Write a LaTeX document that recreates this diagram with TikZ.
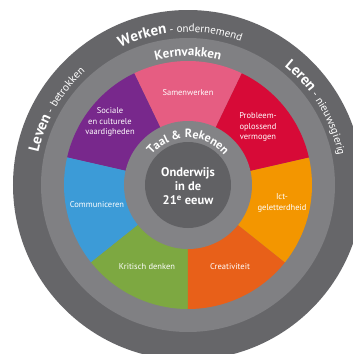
\documentclass[tikz,border=0pt]{standalone}
\usepackage{fontspec}
\setmainfont{PT Sans}
\usetikzlibrary{decorations.text}

\definecolor{ringouter}{RGB}{102,102,105}
\definecolor{ringmid}{RGB}{128,128,131}
\definecolor{ringinner}{RGB}{131,131,134}
\definecolor{coredark}{RGB}{97,97,100}
\definecolor{segpink}{RGB}{230,93,130}
\definecolor{segpurple}{RGB}{120,40,140}
\definecolor{segblue}{RGB}{60,155,215}
\definecolor{seggreen}{RGB}{125,168,65}
\definecolor{segorangered}{RGB}{232,96,25}
\definecolor{segorange}{RGB}{243,150,0}
\definecolor{segred}{RGB}{215,10,55}

\newcommand{\bigbold}{\bfseries\fontsize{15}{15}\selectfont}
\newcommand{\smallreg}{\mdseries\fontsize{11}{11}\selectfont}

\begin{document}
\begin{tikzpicture}[x=1pt,y=1pt,
  seglabel/.style={text=white, align=center, font=\fontsize{8.5}{10.5}\selectfont},
  arctext/.style={decorate, decoration={text along path, text align=center,
    text color=white, text={#1}}}]

\fill[white] (-188,-169) rectangle (165,185);
\useasboundingbox (-188,-169) rectangle (165,185);

\fill[ringouter] (0,0) circle (175);
\fill[ringmid] (0,0) circle (147);

\foreach \col/\a in {segpink/90, segpurple/141.43, segblue/192.86, seggreen/244.29,
                     segorangered/295.71, segorange/347.14, segred/38.57}
  \fill[\col] (0,0) -- ({\a-25.714}:124) arc[start angle=\a-25.714, end angle=\a+25.714, radius=124] -- cycle;

\fill[ringinner] (0,0) circle (64);
\fill[coredark] (0,0) circle (43);

\node[seglabel] (samen) at (0,92) {Samenwerken};
\node[seglabel] (sociaal) at (-78,63) {Sociale\\en culturele\\vaardigheden};
\node[seglabel] (probleem) at (70,58) {Probleem-\\oplossend\\vermogen};
\node[seglabel] (commu) at (-91,-20) {Communiceren};
\node[seglabel] (ict) at (94,-18) {Ict-\\geletterdheid};
\node[seglabel] (kritisch) at (-41,-82) {Kritisch denken};
\node[seglabel] (creatief) at (42,-82) {Creativiteit};

\node[text=white, align=center, font=\bfseries\fontsize{12.5}{14}\selectfont] (kern) at (0,-1)
  {Onderwijs\\in de\\21\textsuperscript{e} eeuw};

\path[arctext={|\bfseries\fontsize{12}{12}\selectfont|Taal {\&} Rekenen}]
  (160:47) arc[start angle=160, end angle=20, radius=47];
\path[arctext={|\bfseries\fontsize{13}{13}\selectfont|Kernvakken}]
  (125:129) arc[start angle=125, end angle=55, radius=129];

\path[arctext={|\bigbold|Werken|\smallreg| - ondernemend}]
  (130:153) arc[start angle=130, end angle=56, radius=153];
\path[arctext={|\bigbold|Leven|\smallreg| - betrokken}]
  (185:153) arc[start angle=185, end angle=115, radius=153];
\path[arctext={|\bigbold|Leren|\smallreg| - nieuwsgierig}]
  (66:153) arc[start angle=66, end angle=-4, radius=153];

\end{tikzpicture}
\end{document}
